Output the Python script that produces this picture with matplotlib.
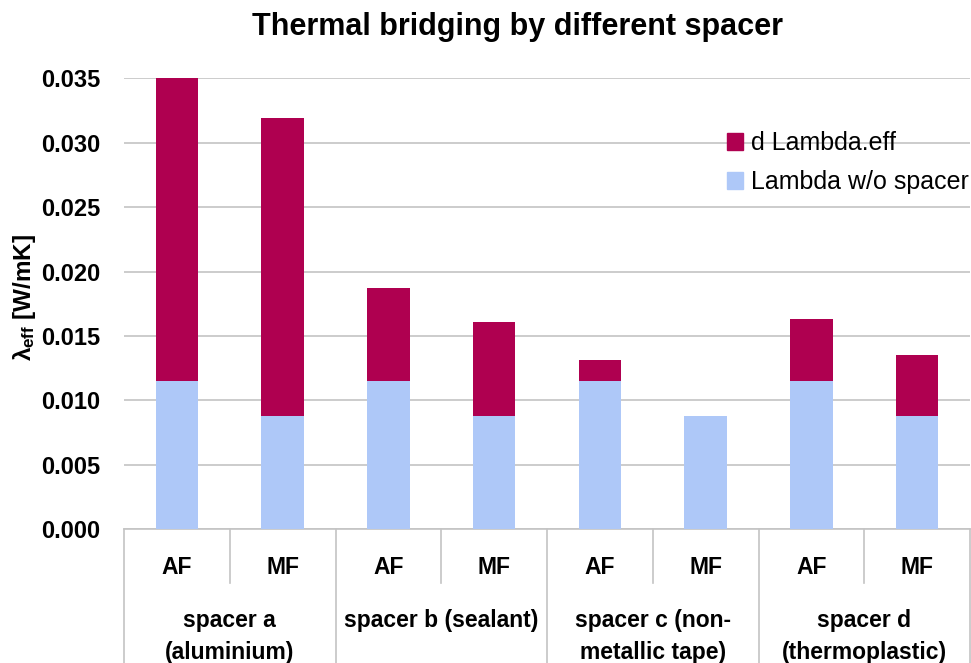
import matplotlib
matplotlib.use("Agg")
import matplotlib.pyplot as plt
from matplotlib.patches import Patch
import matplotlib.transforms as mtransforms

# ---- data ----
sub_labels = ["AF", "MF", "AF", "MF", "AF", "MF", "AF", "MF"]
group_labels = ["spacer a\n(aluminium)", "spacer b (sealant)",
                "spacer c (non-\nmetallic tape)", "spacer d\n(thermoplastic)"]
lambda_wo_spacer = [0.0115, 0.0088, 0.0115, 0.0088, 0.0115, 0.0088, 0.0115, 0.0088]
d_lambda_eff = [0.0235, 0.0231, 0.0072, 0.0073, 0.0016, 0.0, 0.0048, 0.0047]
yticks = [0.000, 0.005, 0.010, 0.015, 0.020, 0.025, 0.030, 0.035]

RED = "#AF0050"
BLUE = "#AEC8F8"
GRID = "#C4C4C4"

plt.rcParams['font.family'] = ['Liberation Sans', 'DejaVu Sans']
plt.rcParams['mathtext.fontset'] = 'custom'
plt.rcParams['mathtext.rm'] = 'Liberation Sans:bold'
plt.rcParams['mathtext.it'] = 'Liberation Sans:bold'
plt.rcParams['mathtext.bf'] = 'Liberation Sans:bold'

W, H = 971, 663
fig = plt.figure(figsize=(W / 100, H / 100), dpi=100)
ax = fig.add_axes([124 / W, 1 - 529.3 / H, (970 - 124) / W, (529.3 - 78.3) / H])

x = list(range(len(sub_labels)))
ax.bar(x, lambda_wo_spacer, width=0.40, color=BLUE, zorder=3, label="Lambda w/o spacer")
ax.bar(x, d_lambda_eff, width=0.40, bottom=lambda_wo_spacer, color=RED, zorder=3,
       label="d Lambda.eff")

ax.set_xlim(-0.5, len(x) - 0.5)
ax.set_ylim(0, 0.035)
ax.set_yticks(yticks)
ax.set_yticklabels([f"{v:.3f}" for v in yticks], fontsize=17, fontweight='bold')
ax.tick_params(axis='y', length=0, pad=17)
ax.set_xticks([])
ax.grid(axis='y', color=GRID, linewidth=1.2, zorder=0)
for s in ['left', 'right', 'top']:
    ax.spines[s].set_visible(False)
ax.spines['bottom'].set_color(GRID)
ax.spines['bottom'].set_linewidth(1.2)

trans = mtransforms.blended_transform_factory(ax.transData, ax.transAxes)
ah = 529.3 - 78.3
inner_bottom = -(583 - 529.3) / ah
outer_bottom = -(663 - 529.3) / ah
for i in range(len(x) + 1):
    xb = i - 0.5
    yb = outer_bottom if i % 2 == 0 else inner_bottom
    ax.plot([xb, xb], [0, yb], color=GRID, linewidth=1.2, transform=trans, clip_on=False)

y_sub = -(568 - 529.3) / ah
for xi, lab in zip(x, sub_labels):
    ax.text(xi, y_sub, lab, transform=trans, ha='center', va='center',
            fontsize=16.5, fontweight='bold')

line_y = [-(620 - 529.3) / ah, -(652 - 529.3) / ah]
for gi, lab in enumerate(group_labels):
    for li, line in enumerate(lab.split("\n")):
        ax.text(2 * gi + 0.5, line_y[li], line, transform=trans, ha='center', va='center',
                fontsize=16.5, fontweight='bold')

fig.text(517.5 / W, 1 - 27 / H, "Thermal bridging by different spacer", ha='center', va='center',
         fontsize=22, fontweight='bold')

fig.text(25 / W, 1 - 297 / H, r"$\lambda_{\mathrm{eff}}$ [W/mK]", rotation=90, ha='center',
         va='center', fontsize=17.5, fontweight='bold')

handles = [Patch(color=RED, label="d Lambda.eff"), Patch(color=BLUE, label="Lambda w/o spacer")]
fig.legend(handles=handles, loc='upper left', bbox_to_anchor=(727 / W, 1 - 131 / H),
           frameon=False, fontsize=18, handlelength=0.65, handleheight=0.65,
           handletextpad=0.32, labelspacing=0.62, borderpad=0, borderaxespad=0)

fig.savefig("out.png", dpi=100)
